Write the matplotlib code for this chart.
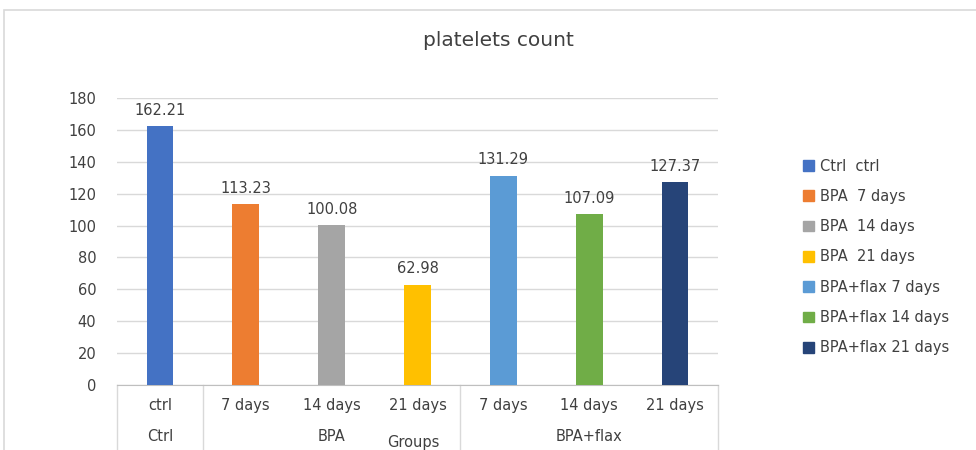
import numpy as np
import matplotlib.pyplot as plt
from matplotlib.patches import Rectangle, Patch

# data
days = ["ctrl", "7 days", "14 days", "21 days", "7 days", "14 days", "21 days"]
groups = ["Ctrl", "BPA", "BPA+flax"]
group_sizes = [1, 3, 3]
values = [162.21, 113.23, 100.08, 62.98, 131.29, 107.09, 127.37]
legend_labels = ["Ctrl  ctrl", "BPA  7 days", "BPA  14 days", "BPA  21 days",
                 "BPA+flax 7 days", "BPA+flax 14 days", "BPA+flax 21 days"]
colors = ["#4472C4", "#ED7D31", "#A5A5A5", "#FFC000", "#5B9BD5", "#70AD47", "#264478"]

plt.rcParams['font.family'] = ['DejaVu Sans']
txt = "#404040"
fs = 10.5

fig = plt.figure(figsize=(9.76, 4.5), dpi=100)
# chart border
fig.patches.append(Rectangle((4/976, -0.1), 1.1, 1 - 10/450 + 0.1, transform=fig.transFigure,
                             fill=False, edgecolor="#d9d9d9", lw=1.2))

ax = fig.add_axes([117/976, 1 - 385/450, 601/976, 287/450])
x = np.arange(len(values))
ax.bar(x, values, width=0.31, color=colors, zorder=3)
for xi, v in zip(x, values):
    ax.annotate(f"{v:.2f}", (xi, v), xytext=(0, 6), textcoords="offset points",
                ha="center", va="bottom", fontsize=fs, color=txt)

ax.set_xlim(-0.5, len(values) - 0.5)
ax.set_ylim(0, 180)
ax.set_yticks(np.arange(0, 181, 20))
ax.yaxis.grid(True, color="#d9d9d9", lw=1, zorder=0)
for s in ["top", "right", "left"]:
    ax.spines[s].set_visible(False)
ax.spines["bottom"].set_color("#bfbfbf")
ax.tick_params(axis="y", length=0, labelsize=fs, labelcolor=txt, pad=15)
ax.set_xticks([])

# multi-level category axis
tr = ax.get_xaxis_transform()
for xi, d in zip(x, days):
    ax.text(xi, -0.072, d, transform=tr, ha="center", va="center", fontsize=fs, color=txt)
start = 0
bounds = [-0.5]
for g, n in zip(groups, group_sizes):
    ax.text(start + (n - 1) / 2, -0.18, g, transform=tr, ha="center", va="center",
            fontsize=fs, color=txt, clip_on=False)
    start += n
    bounds.append(start - 0.5)
for b in bounds:
    ax.plot([b, b], [0, -0.3], transform=tr, color="#d9d9d9", lw=1, clip_on=False)
ax.text(2.95, -0.2, "Groups", transform=tr, ha="center", va="center", fontsize=fs,
        color=txt, clip_on=False)

fig.text(498/976, 1 - 40/450, "platelets count", ha="center", va="center", fontsize=14.5, color=txt)

handles = [Patch(color=c) for c in colors]
fig.legend(handles, legend_labels, loc="center left", bbox_to_anchor=(803/976, 1 - 257/450),
           frameon=False, fontsize=fs, labelcolor=txt, handlelength=0.75, handleheight=0.75,
           handletextpad=0.4, labelspacing=1.05, borderpad=0, borderaxespad=0)

fig.savefig("out.png", dpi=100)
